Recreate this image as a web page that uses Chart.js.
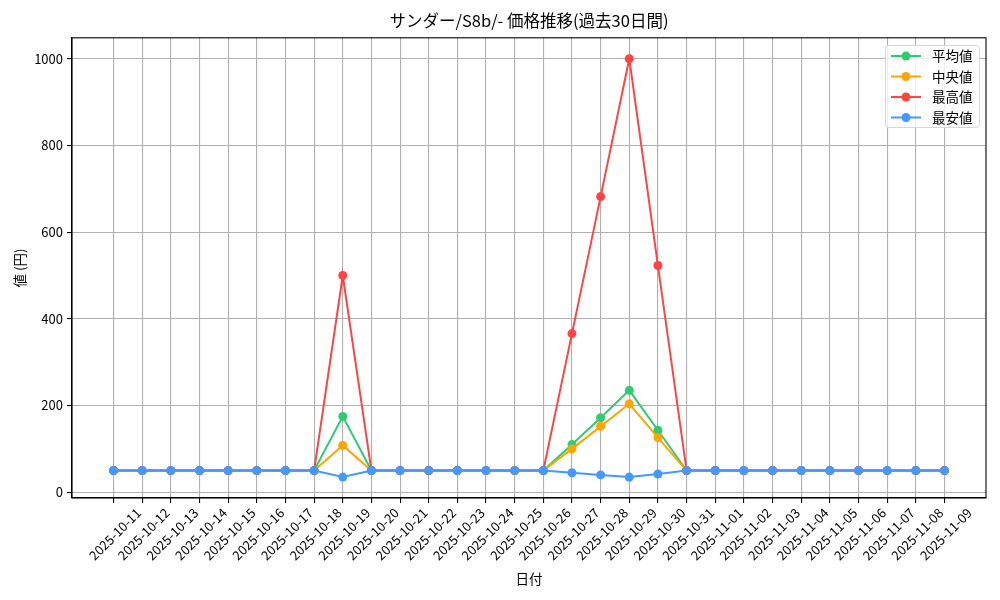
<!DOCTYPE html>
<html><head><meta charset="utf-8">
<script src="https://cdn.jsdelivr.net/npm/chart.js@4.4.1/dist/chart.umd.min.js"></script>
<style>html,body{margin:0;padding:0;background:#fff}#wrap{width:1000px;height:600px}</style>
</head><body><div id="wrap"><canvas id="c" width="1000" height="600"></canvas></div>
<script>
const dates = ["2025-10-11","2025-10-12","2025-10-13","2025-10-14","2025-10-15","2025-10-16","2025-10-17","2025-10-18","2025-10-19","2025-10-20","2025-10-21","2025-10-22","2025-10-23","2025-10-24","2025-10-25","2025-10-26","2025-10-27","2025-10-28","2025-10-29","2025-10-30","2025-10-31","2025-11-01","2025-11-02","2025-11-03","2025-11-04","2025-11-05","2025-11-06","2025-11-07","2025-11-08","2025-11-09"];
const avgValues    = [50,50,50,50,50,50,50,50,175,50,50,50,50,50,50,50,110,172,235,143,50,50,50,50,50,50,50,50,50,50];
const medianValues = [50,50,50,50,50,50,50,50,108,50,50,50,50,50,50,50,100,152,204,126,50,50,50,50,50,50,50,50,50,50];
const maxValues    = [50,50,50,50,50,50,50,50,500,50,50,50,50,50,50,50,366,682,1000,523,50,50,50,50,50,50,50,50,50,50];
const minValues    = [50,50,50,50,50,50,50,50,35,50,50,50,50,50,50,50,45,40,35,42,50,50,50,50,50,50,50,50,50,50];
const yTicks = [0,200,400,600,800,1000];
const seriesNames = ["平均値","中央値","最高値","最安値"];
const colors = ["#2ecc71","#ffa500","#ff4444","#4499ff"];
const titleText = "サンダー/S8b/- 価格推移(過去30日間)";
const FONT = "'Noto Sans CJK JP', sans-serif";

const toPts = arr => arr.map((v,i)=>({x:i,y:v}));
const allSeries = [avgValues, medianValues, maxValues, minValues];
const datasets = allSeries.map((arr,k)=>({
  label: seriesNames[k], data: toPts(arr), order: allSeries.length - 1 - k,
  borderColor: colors[k], backgroundColor: colors[k],
  pointBackgroundColor: colors[k], pointBorderColor: colors[k],
  borderWidth: 2, pointRadius: 4.5, pointHoverRadius: 4.5, pointBorderWidth: 0, tension: 0
}));

const frame = {
  id:'frame',
  afterDraw(chart){
    const {ctx, chartArea:a} = chart;
    ctx.save();
    ctx.strokeStyle = '#000'; ctx.lineWidth = 1.1;
    ctx.strokeRect(a.left, a.top, a.right-a.left, a.bottom-a.top);
    // legend
    const lx = 885, ly = 45, lw = 94, lh = 82;
    ctx.fillStyle = 'rgba(255,255,255,0.8)';
    ctx.strokeStyle = '#d6d6d6'; ctx.lineWidth = 1;
    ctx.beginPath();
    if (ctx.roundRect) ctx.roundRect(lx+0.5, ly+0.5, lw, lh, 3); else ctx.rect(lx+0.5, ly+0.5, lw, lh);
    ctx.fill(); ctx.stroke();
    ctx.font = "13.5px " + FONT;
    ctx.textBaseline = 'middle'; ctx.textAlign = 'left';
    const items = chart.data.datasets.slice().sort((p,q)=>q.order-p.order);
    items.forEach((ds,i)=>{
      const y = ly + 11 + i*20.5;
      ctx.strokeStyle = ds.borderColor; ctx.lineWidth = 2;
      ctx.beginPath(); ctx.moveTo(lx+6, y); ctx.lineTo(lx+36, y); ctx.stroke();
      ctx.fillStyle = ds.borderColor;
      ctx.beginPath(); ctx.arc(lx+21, y, 4.5, 0, Math.PI*2); ctx.fill();
      ctx.fillStyle = '#000';
      ctx.fillText(ds.label, lx+47, y);
    });
    ctx.restore();
  }
};

new Chart(document.getElementById('c'), {
  type: 'line',
  data: { datasets },
  options: {
    responsive: false, animation: false,
    layout: { padding: { left: 0, right: 14, top: 0, bottom: 0 } },
    plugins: {
      legend: { display: false },
      tooltip: { enabled: false },
      title: { display: true, fullSize: false, text: titleText, color: '#000',
        font: { family: FONT, size: 16.5, weight: 'normal' }, padding: { top: 11, bottom: 7 } }
    },
    scales: {
      x: {
        type: 'linear', min: -1.45, max: 30.45,
        afterBuildTicks: s => { s.ticks = dates.map((d,i)=>({value:i})); },
        afterFit: s => { s.height = 102; },
        ticks: { autoSkip: false, maxRotation: 45, minRotation: 45, color: '#000',
          font: { family: FONT, size: 13 }, padding: 2, labelOffset: 25,
          callback: v => dates[v] },
        grid: { color: '#b0b0b0', lineWidth: 1.1, tickColor: '#000', tickLength: 5, drawTicks: true },
        border: { color: '#000', width: 1.1 },
        title: { display: true, text: '日付', color: '#000', font: { family: FONT, size: 13.5 }, padding: { top: 0, bottom: 13 } }
      },
      y: {
        type: 'linear', min: -13.25, max: 1048.25,
        afterBuildTicks: s => { s.ticks = yTicks.map(v=>({value:v})); },
        afterFit: s => { s.width = 72; },
        ticks: { color: '#000', font: { family: FONT, size: 13 }, padding: 4, callback: v => String(v) },
        grid: { color: '#b0b0b0', lineWidth: 1.1, tickColor: '#000', tickLength: 5, drawTicks: true },
        border: { color: '#000', width: 1.1 },
        title: { display: true, text: '値 (円)', color: '#000', font: { family: FONT, size: 13.5 }, padding: { top: 12, bottom: 0 } }
      }
    }
  },
  plugins: [frame]
});
</script></body></html>
